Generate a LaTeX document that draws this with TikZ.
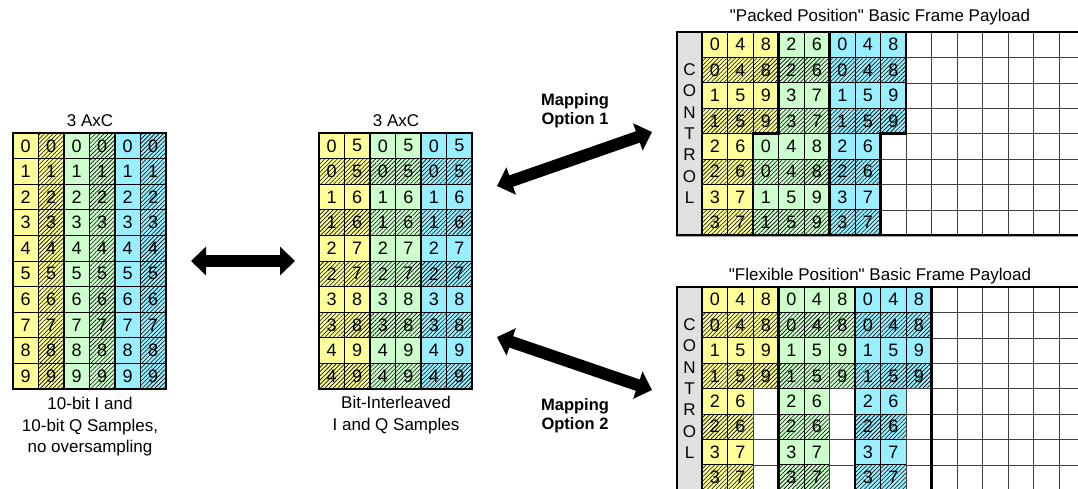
\documentclass[tikz,border=0pt]{standalone}
\usepackage{fontspec}
\setmainfont{Liberation Sans}[Ligatures=TeXOff]
\usetikzlibrary{patterns.meta,arrows.meta}
\definecolor{ax0}{RGB}{255,255,153}
\definecolor{ax1}{RGB}{204,255,204}
\definecolor{ax2}{RGB}{153,238,255}
\definecolor{ctrlgray}{RGB}{224,224,224}
\tikzset{
  cellbase/.style={draw=black, line width=0.8pt, anchor=north west, minimum width=25.5pt,
    inner sep=0pt, outer sep=0pt, font=\fontsize{18}{18}\selectfont},
  cellA/.style={cellbase, minimum height=25.6pt},
  cellB/.style={cellbase, minimum height=25.4pt},
  hatched/.style={preaction={fill=#1}, pattern={Lines[angle=45,distance=3pt,line width=0.6pt]}},
  ecell/.style={cellB, draw=black!75, line width=0.6pt},
  ctrl/.style={draw=black, line width=2.4pt, fill=ctrlgray, anchor=north west, minimum width=25pt,
    minimum height=203.2pt, inner sep=0pt, outer sep=0pt, align=center,
    font=\fontsize{17}{21.3}\selectfont},
  thickline/.style={line width=2.4pt, line cap=rect},
  bigarrow/.style={line width=12pt, {Triangle[length=15pt,width=28pt]}-{Triangle[length=15pt,width=28pt]}},
  lbl/.style={font=\fontsize{17}{21.5}\selectfont, align=center, inner sep=0pt},
  maplbl/.style={font=\bfseries\fontsize{16.5}{19}\selectfont, align=center, inner sep=0pt},
}
% name, position, size style, colour, hatched (0/1), text
\newcommand\gcell[6]{%
  \ifnum#5=1
    \node[#3, hatched=#4] (#1) at (#2) {#6};
  \else
    \node[#3, fill=#4] (#1) at (#2) {#6};
  \fi}
% prefix, top y, row pair, list of colour/digit (colour 9 = empty)
\newcommand\prow[4]{%
  \foreach \g/\dv [count=\ci from 0] in {#4}{%
    \foreach \h in {0,1}{%
      \pgfmathtruncatemacro\ri{2*#3+\h}%
      \ifnum\g=9
        \node[ecell] (#1-\ri-\ci) at (702+25.5*\ci,#2+25.4*\ri) {};
      \else
        \gcell{#1-\ri-\ci}{702+25.5*\ci,#2+25.4*\ri}{cellB}{ax\g}{\h}{\dv}%
      \fi}}}
\begin{document}
\begin{tikzpicture}[x=1pt,y=-1pt]
\path[use as bounding box, fill=white] (0,0) rectangle (1078,488);
\clip (0,0) rectangle (1078,488);

% ---------- left grid ----------
\foreach \ri in {0,...,9}{\foreach \ci in {0,...,5}{%
  \pgfmathtruncatemacro\g{int(\ci/2)}%
  \pgfmathtruncatemacro\h{mod(\ci,2)}%
  \gcell{L-\ri-\ci}{13+25.5*\ci,133+25.6*\ri}{cellA}{ax\g}{\h}{\ri}}}
\draw[thickline] (L-0-0.north west) rectangle (L-9-5.south east);
\draw[thickline] (L-0-2.north west) -- (L-9-2.south west);
\draw[thickline] (L-0-4.north west) -- (L-9-4.south west);

% ---------- middle grid ----------
\foreach \ri in {0,...,9}{\foreach \ci in {0,...,5}{%
  \pgfmathtruncatemacro\g{int(\ci/2)}%
  \pgfmathtruncatemacro\h{mod(\ri,2)}%
  \pgfmathtruncatemacro\dv{int(\ri/2)+5*mod(\ci,2)}%
  \gcell{M-\ri-\ci}{319+25.5*\ci,133+25.6*\ri}{cellA}{ax\g}{\h}{\dv}}}
\draw[thickline] (M-0-0.north west) rectangle (M-9-5.south east);
\draw[thickline] (M-0-2.north west) -- (M-9-2.south west);
\draw[thickline] (M-0-4.north west) -- (M-9-4.south west);

% ---------- packed position ----------
\node[ctrl] (PC) at (677,32) {C\\O\\N\\T\\R\\O\\L};
\prow{P}{32}{0}{0/0,0/4,0/8,1/2,1/6,2/0,2/4,2/8}
\prow{P}{32}{1}{0/1,0/5,0/9,1/3,1/7,2/1,2/5,2/9}
\prow{P}{32}{2}{0/2,0/6,1/0,1/4,1/8,2/2,2/6,9/x}
\prow{P}{32}{3}{0/3,0/7,1/1,1/5,1/9,2/3,2/7,9/x}
\foreach \ri in {0,...,7}{\foreach \ci in {8,...,14}{%
  \node[ecell] (P-\ri-\ci) at (702+25.5*\ci,32+25.4*\ri) {};}}
\draw[thickline] (PC.north west) -- (P-0-14.north east);
\draw[thickline] (PC.south west) -- (P-7-14.south east);
\draw[thickline] (P-0-3.north west) -- (P-3-3.south west) -- (P-4-2.north west) -- (P-7-2.south west);
\draw[thickline] (P-0-5.north west) -- (P-7-5.south west);
\draw[thickline] (P-0-8.north west) -- (P-3-8.south west) -- (P-4-7.north west) -- (P-7-7.south west);
\draw[line width=2.4pt] (PC.north west) rectangle (PC.south east);

% ---------- flexible position ----------
\node[ctrl] (FC) at (677,287) {C\\O\\N\\T\\R\\O\\L};
\prow{F}{287}{0}{0/0,0/4,0/8,1/0,1/4,1/8,2/0,2/4,2/8}
\prow{F}{287}{1}{0/1,0/5,0/9,1/1,1/5,1/9,2/1,2/5,2/9}
\prow{F}{287}{2}{0/2,0/6,9/x,1/2,1/6,9/x,2/2,2/6,9/x}
\prow{F}{287}{3}{0/3,0/7,9/x,1/3,1/7,9/x,2/3,2/7,9/x}
\foreach \ri in {0,...,7}{\foreach \ci in {9,...,14}{%
  \node[ecell] (F-\ri-\ci) at (702+25.5*\ci,287+25.4*\ri) {};}}
\draw[thickline] (FC.north west) -- (F-0-14.north east);
\draw[thickline] (F-0-3.north west) -- (F-7-3.south west);
\draw[thickline] (F-0-6.north west) -- (F-7-6.south west);
\draw[thickline] (F-0-9.north west) -- (F-7-9.south west);
\draw[line width=2.4pt] (FC.north west) rectangle (FC.south east);

% ---------- labels ----------
\node[lbl] (Lt) at (90,121) {3 AxC};
\node[lbl] (Mt) at (396,121) {3 AxC};
\node[lbl] (Lc) at (90,427) {10-bit I and\\10-bit Q Samples,\\no oversampling};
\node[lbl] (Mc) at (396,415) {Bit-Interleaved\\I and Q Samples};
\node[lbl] (Pt) at (880,17) {"Packed Position" Basic Frame Payload};
\node[lbl] (Ft) at (880,276) {"Flexible Position" Basic Frame Payload};
\node[maplbl] (m1) at (575,111) {Mapping\\Option 1};
\node[maplbl] (m2) at (575,416) {Mapping\\Option 2};

% ---------- arrows ----------
\coordinate (a0l) at (191,261);
\coordinate (a0r) at (295,261);
\coordinate (a1l) at (497,186);
\coordinate (a1r) at (652,132);
\coordinate (a2l) at (497,337);
\coordinate (a2r) at (652,390);
\draw[bigarrow] (a0l) -- (a0r);
\draw[bigarrow] (a1l) -- (a1r);
\draw[bigarrow] (a2l) -- (a2r);
\end{tikzpicture}
\end{document}
